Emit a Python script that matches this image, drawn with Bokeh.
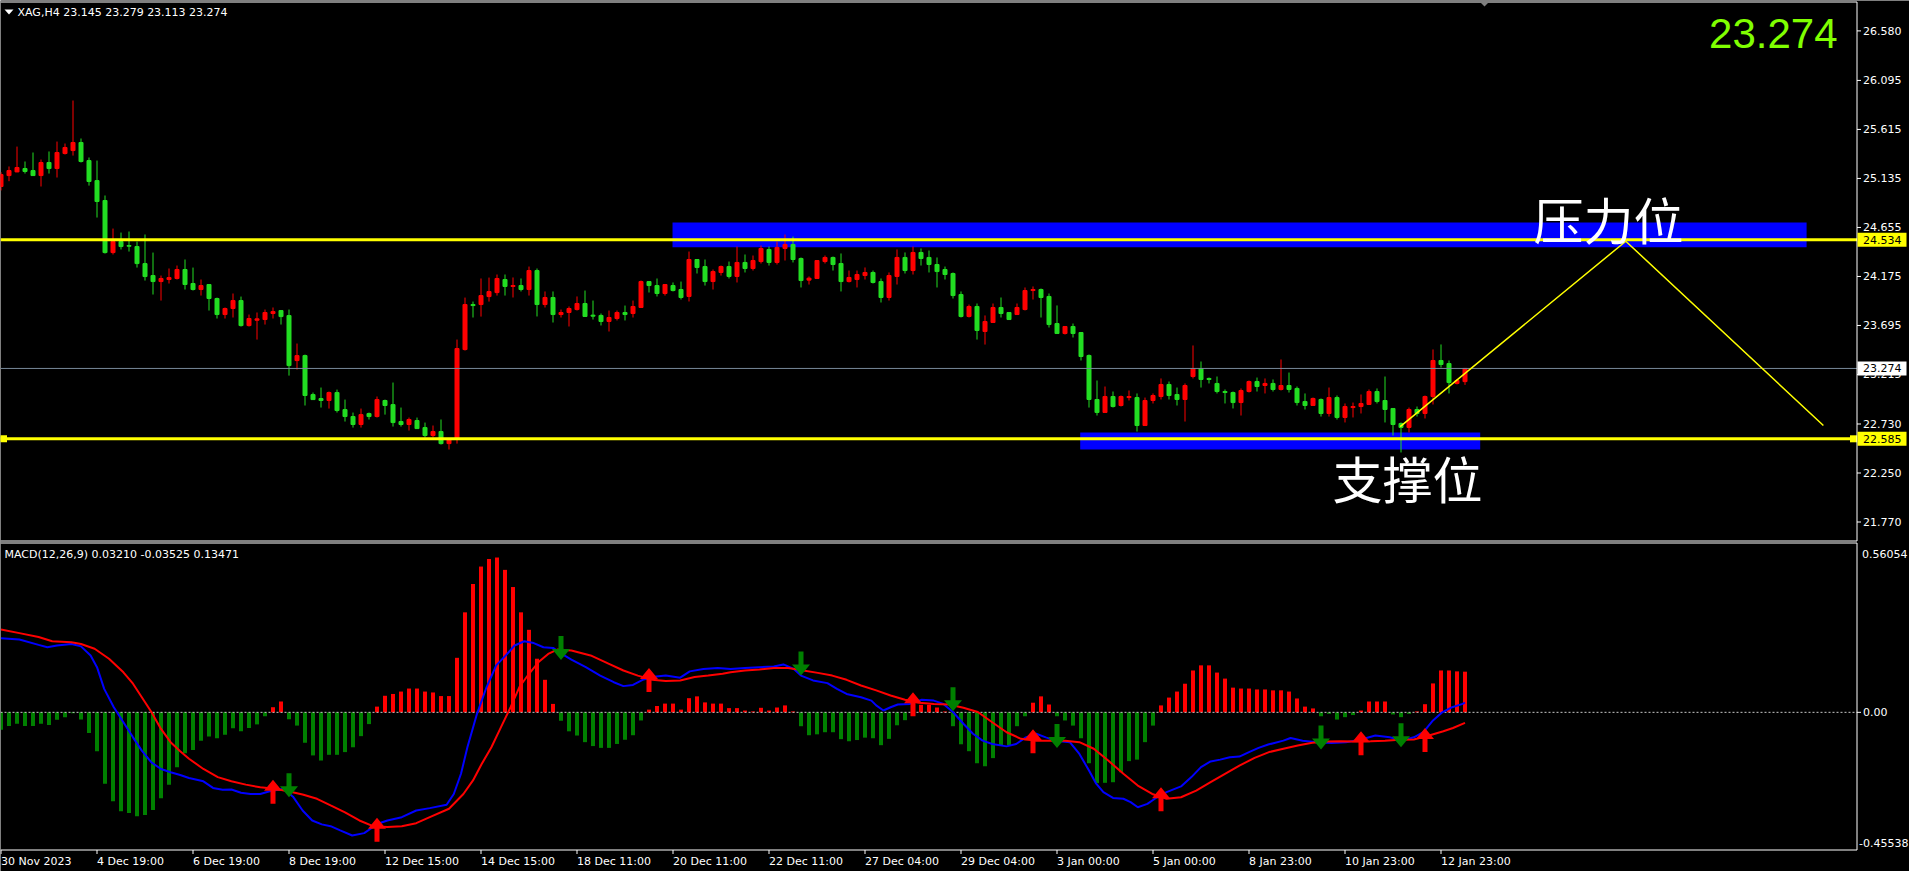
from bokeh.plotting import figure
from bokeh.models import Range1d, Label, BoxAnnotation
from bokeh.embed import file_html
from bokeh.resources import INLINE

# ---------------- data (XAG, H4) ----------------
opens = [25.056, 25.163, 25.199, 25.232, 25.212, 25.163, 25.291, 25.232, 25.379, 25.408,
         25.487, 25.310, 25.114, 24.919, 24.409, 24.517, 24.478, 24.468, 24.301, 24.184,
         24.125, 24.145, 24.155, 24.243, 24.106, 24.047, 24.096, 23.959, 23.802, 23.861,
         23.939, 23.694, 23.746, 23.753, 23.812, 23.841, 23.792, 23.351, 23.400, 23.018,
         22.979, 22.960, 23.038, 22.871, 22.803, 22.725, 22.832, 22.803, 22.960, 22.920,
         22.754, 22.725, 22.764, 22.695, 22.617, 22.656, 22.538, 22.578, 23.459, 23.900,
         23.900, 23.978, 24.017, 24.145, 24.077, 24.086, 24.047, 24.233, 23.900, 23.969,
         23.802, 23.822, 23.851, 23.910, 23.796, 23.793, 23.734, 23.763, 23.822, 23.812,
         23.871, 24.125, 24.086, 24.008, 24.086, 24.047, 23.979, 24.341, 24.272, 24.125,
         24.214, 24.272, 24.175, 24.312, 24.253, 24.321, 24.439, 24.312, 24.449, 24.488,
         24.351, 24.139, 24.155, 24.321, 24.361, 24.302, 24.125, 24.145, 24.184, 24.214,
         24.125, 23.969, 24.175, 24.361, 24.233, 24.410, 24.361, 24.292, 24.243, 24.204,
         23.998, 23.783, 23.881, 23.636, 23.724, 23.871, 23.822, 23.802, 23.851, 24.037,
         24.047, 23.979, 23.714, 23.616, 23.685, 23.626, 23.401, 22.970, 22.843, 22.999,
         22.911, 22.989, 22.989, 22.715, 22.960, 22.999, 23.117, 23.019, 22.970, 23.195,
         23.273, 23.176, 23.127, 23.048, 23.038, 22.940, 23.048, 23.146, 23.107, 23.127,
         23.068, 23.107, 23.078, 22.950, 22.911, 22.970, 22.833, 22.989, 22.794, 22.891,
         22.901, 22.921, 23.048, 22.960, 22.882, 22.735, 22.696, 22.872, 22.833, 22.999,
         23.352, 23.322, 23.127, 23.145]
highs = [25.196, 25.252, 25.447, 25.301, 25.389, 25.320, 25.399, 25.496, 25.477, 25.898,
         25.526, 25.340, 25.310, 24.968, 24.644, 24.605, 24.615, 24.517, 24.586, 24.409,
         24.184, 24.253, 24.282, 24.341, 24.262, 24.145, 24.096, 23.968, 23.871, 24.008,
         23.978, 23.802, 23.822, 23.851, 23.871, 23.841, 23.851, 23.518, 23.410, 23.038,
         23.087, 23.048, 23.067, 22.969, 22.842, 22.881, 22.842, 22.999, 22.969, 23.136,
         22.891, 22.793, 22.793, 22.744, 22.715, 22.774, 22.578, 23.557, 23.968, 23.929,
         24.155, 24.164, 24.194, 24.194, 24.165, 24.155, 24.272, 24.253, 24.028, 24.028,
         23.851, 23.881, 23.979, 24.037, 23.939, 23.812, 23.841, 23.841, 23.890, 23.939,
         24.135, 24.125, 24.155, 24.096, 24.116, 24.125, 24.419, 24.341, 24.341, 24.243,
         24.282, 24.321, 24.468, 24.390, 24.380, 24.478, 24.468, 24.517, 24.586, 24.566,
         24.361, 24.175, 24.331, 24.380, 24.370, 24.400, 24.233, 24.233, 24.263, 24.233,
         24.155, 24.214, 24.439, 24.410, 24.468, 24.449, 24.429, 24.361, 24.272, 24.214,
         24.028, 23.900, 23.910, 23.793, 23.910, 23.969, 23.822, 23.910, 24.067, 24.077,
         24.057, 24.008, 23.891, 23.685, 23.714, 23.626, 23.411, 23.156, 23.097, 23.048,
         23.009, 23.058, 23.029, 22.989, 23.029, 23.176, 23.146, 23.087, 23.127, 23.499,
         23.342, 23.185, 23.195, 23.068, 23.048, 23.078, 23.156, 23.185, 23.176, 23.166,
         23.362, 23.234, 23.097, 23.029, 22.989, 22.980, 23.087, 23.009, 22.931, 22.940,
         23.019, 23.068, 23.078, 23.195, 22.882, 22.745, 22.891, 22.901, 23.009, 23.460,
         23.509, 23.352, 23.169, 23.279]
lows = [25.017, 25.108, 25.196, 25.183, 25.163, 25.056, 25.183, 25.144, 25.369, 25.359,
        25.291, 25.065, 24.752, 24.399, 24.390, 24.439, 24.419, 24.262, 24.135, 23.998,
        23.939, 24.106, 24.145, 24.047, 24.037, 23.988, 23.841, 23.763, 23.763, 23.773,
        23.684, 23.684, 23.557, 23.704, 23.763, 23.704, 23.204, 23.263, 22.911, 22.969,
        22.891, 22.881, 22.842, 22.754, 22.695, 22.695, 22.774, 22.793, 22.822, 22.705,
        22.705, 22.666, 22.685, 22.597, 22.597, 22.529, 22.480, 22.538, 23.449, 23.773,
        23.782, 23.929, 23.988, 23.988, 23.969, 24.028, 23.988, 23.783, 23.871, 23.724,
        23.773, 23.685, 23.841, 23.783, 23.753, 23.695, 23.636, 23.744, 23.744, 23.773,
        23.871, 24.018, 23.979, 23.988, 24.028, 23.949, 23.930, 24.204, 24.086, 24.047,
        24.184, 24.155, 24.116, 24.214, 24.233, 24.302, 24.282, 24.292, 24.331, 24.312,
        24.067, 24.096, 24.155, 24.302, 24.233, 24.028, 24.116, 24.067, 24.145, 24.106,
        23.920, 23.939, 24.096, 24.204, 24.194, 24.282, 24.214, 24.067, 24.145, 23.959,
        23.773, 23.773, 23.557, 23.508, 23.724, 23.773, 23.753, 23.802, 23.842, 23.949,
        23.773, 23.675, 23.616, 23.606, 23.577, 23.352, 22.891, 22.813, 22.843, 22.891,
        22.901, 22.960, 22.656, 22.715, 22.931, 22.970, 22.970, 22.911, 22.754, 23.176,
        23.087, 23.127, 23.029, 22.931, 22.882, 22.813, 23.038, 23.048, 23.029, 23.048,
        23.058, 23.038, 22.911, 22.872, 22.911, 22.803, 22.803, 22.774, 22.745, 22.794,
        22.833, 22.921, 22.931, 22.745, 22.617, 22.451, 22.647, 22.803, 22.784, 22.921,
        23.283, 23.029, 23.117, 23.113]
closes = [25.173, 25.212, 25.242, 25.203, 25.163, 25.291, 25.232, 25.389, 25.438, 25.487,
          25.301, 25.105, 24.909, 24.409, 24.517, 24.468, 24.471, 24.301, 24.174, 24.125,
          24.155, 24.164, 24.243, 24.096, 24.047, 24.086, 23.959, 23.802, 23.861, 23.939,
          23.694, 23.763, 23.760, 23.822, 23.831, 23.782, 23.302, 23.400, 23.009, 22.969,
          22.960, 23.038, 22.862, 22.803, 22.725, 22.822, 22.803, 22.969, 22.911, 22.744,
          22.725, 22.774, 22.685, 22.617, 22.656, 22.538, 22.578, 23.469, 23.900, 23.890,
          23.988, 24.027, 24.155, 24.077, 24.086, 24.047, 24.233, 23.900, 23.969, 23.802,
          23.822, 23.861, 23.910, 23.783, 23.786, 23.734, 23.773, 23.822, 23.802, 23.881,
          24.125, 24.086, 24.008, 24.096, 24.037, 23.969, 24.341, 24.263, 24.125, 24.223,
          24.272, 24.175, 24.312, 24.253, 24.331, 24.449, 24.312, 24.459, 24.488, 24.341,
          24.135, 24.158, 24.331, 24.361, 24.292, 24.125, 24.165, 24.194, 24.214, 24.116,
          23.969, 24.184, 24.361, 24.233, 24.410, 24.351, 24.292, 24.223, 24.194, 23.988,
          23.783, 23.881, 23.646, 23.734, 23.871, 23.812, 23.753, 23.871, 24.037, 24.047,
          23.969, 23.704, 23.616, 23.685, 23.616, 23.391, 22.970, 22.843, 22.999, 22.901,
          22.999, 22.999, 22.715, 22.960, 23.009, 23.117, 23.009, 22.970, 23.107, 23.273,
          23.166, 23.166, 23.048, 23.038, 22.940, 23.058, 23.146, 23.097, 23.127, 23.068,
          23.107, 23.068, 22.940, 22.911, 22.980, 22.833, 22.989, 22.794, 22.901, 22.901,
          22.931, 23.048, 22.950, 22.872, 22.725, 22.696, 22.872, 22.833, 22.999, 23.352,
          23.313, 23.136, 23.156, 23.274]

macd_hist = [-0.058, -0.045, -0.038, -0.045, -0.045, -0.038, -0.042, -0.025, -0.016, -0.003,
             -0.024, -0.069, -0.129, -0.237, -0.295, -0.328, -0.334, -0.345, -0.341, -0.324,
             -0.285, -0.240, -0.182, -0.136, -0.125, -0.094, -0.080, -0.086, -0.074, -0.053,
             -0.063, -0.052, -0.040, -0.013, 0.017, 0.036, -0.023, -0.044, -0.101, -0.143,
             -0.160, -0.141, -0.141, -0.132, -0.116, -0.079, -0.039, 0.019, 0.055, 0.061,
             0.069, 0.079, 0.079, 0.069, 0.066, 0.054, 0.054, 0.181, 0.332, 0.426,
             0.484, 0.509, 0.514, 0.473, 0.416, 0.332, 0.274, 0.178, 0.108, 0.028,
             -0.028, -0.063, -0.077, -0.099, -0.112, -0.118, -0.118, -0.105, -0.091, -0.076,
             -0.027, 0.009, 0.021, 0.029, 0.029, 0.009, 0.047, 0.053, 0.033, 0.029,
             0.029, 0.014, 0.014, 0.006, 0.003, 0.015, 0.006, 0.016, 0.023, 0.003,
             -0.046, -0.076, -0.073, -0.066, -0.066, -0.089, -0.096, -0.092, -0.084, -0.086,
             -0.109, -0.088, -0.043, -0.026, 0.004, 0.025, 0.025, 0.016, 0.003, -0.046,
             -0.106, -0.129, -0.169, -0.179, -0.152, -0.110, -0.109, -0.046, -0.013, 0.032,
             0.053, 0.026, -0.013, -0.027, -0.044, -0.086, -0.169, -0.235, -0.234, -0.232,
             -0.199, -0.162, -0.157, -0.099, -0.044, 0.023, 0.049, 0.069, 0.095, 0.139,
             0.156, 0.156, 0.132, 0.112, 0.082, 0.079, 0.079, 0.076, 0.076, 0.073,
             0.073, 0.069, 0.046, 0.019, 0.013, -0.013, -0.005, -0.024, -0.016, -0.009,
             0.006, 0.036, 0.036, 0.036, -0.007, -0.016, -0.005, 0.003, 0.027, 0.096,
             0.139, 0.139, 0.136, 0.135]

dif_x = [0, 2.3, 4.7, 5.8, 7.0, 8.8, 10.0, 11.2, 12.0, 12.9, 14.1, 15.3, 16.5, 17.6, 18.8, 20.0,
         21.2, 22.4, 23.5, 25.3, 26.5, 27.7, 28.8, 30.0, 31.2, 32.4, 33.6, 35.3, 36.5, 37.7,
         38.9, 40.1, 41.2, 42.4, 43.9, 45.4, 47.1, 48.3, 50.1, 51.9, 53.6, 55.7, 56.6, 57.5,
         58.3, 59.5, 60.7, 61.9, 63.1, 64.2, 65.4, 66.6, 67.8, 69.0, 70.1, 71.3, 73.1, 74.9,
         76.6, 77.8, 79.0, 80.2, 81.9, 83.1, 84.9, 86.1, 87.8, 89.6, 91.2, 93.0, 94.8, 96.6,
         97.8, 99.1, 100.0, 101.5, 103.3, 104.5, 105.7, 107.5, 108.8, 109.4, 110.3, 111.2,
         112.1, 113.6, 115.1, 116.6, 117.8, 119.0, 120.3, 121.5, 122.7, 123.9, 125.7, 126.9,
         128.1, 129.4, 130.6, 131.8, 133.6, 134.8, 136.0, 136.9, 137.8, 139.0, 140.3, 141.2,
         142.1, 143.3, 144.5, 145.7, 147.5, 148.8, 150.0, 151.2, 152.4, 153.6, 154.8, 156.0,
         157.2, 158.4, 160.3, 161.2, 162.7, 164.5, 166.3, 168.1, 169.9, 171.8, 173.6, 175.1,
         176.6, 177.8, 179.0, 180.2, 181.4, 182.7, 183.0]
dif_y = [0.246, 0.242, 0.224, 0.216, 0.222, 0.227, 0.219, 0.189, 0.150, 0.078, 0.017, -0.033,
         -0.083, -0.127, -0.166, -0.188, -0.199, -0.208, -0.218, -0.229, -0.251, -0.257,
         -0.256, -0.267, -0.271, -0.271, -0.262, -0.254, -0.280, -0.326, -0.359, -0.372,
         -0.378, -0.392, -0.409, -0.401, -0.370, -0.359, -0.348, -0.326, -0.318, -0.307,
         -0.271, -0.204, -0.116, -0.005, 0.084, 0.156, 0.189, 0.222, 0.236, 0.230, 0.216,
         0.214, 0.194, 0.175, 0.150, 0.122, 0.100, 0.087, 0.091, 0.108, 0.119, 0.122, 0.115,
         0.136, 0.144, 0.147, 0.144, 0.147, 0.150, 0.152, 0.159, 0.144, 0.122, 0.106, 0.097,
         0.078, 0.061, 0.050, 0.039, 0.023, 0.006, 0.017, 0.026, 0.028, 0.042, 0.039, 0.028,
         0.001, -0.038, -0.071, -0.094, -0.105, -0.113, -0.105, -0.083, -0.071, -0.083,
         -0.094, -0.099, -0.138, -0.193, -0.237, -0.265, -0.284, -0.287, -0.298, -0.315,
         -0.304, -0.282, -0.265, -0.246, -0.215, -0.182, -0.163, -0.157, -0.149, -0.147,
         -0.132, -0.118, -0.107, -0.094, -0.085, -0.094, -0.099, -0.102, -0.099, -0.091,
         -0.077, -0.083, -0.094, -0.083, -0.066, -0.027, 0.001, 0.017, 0.028, 0.032]
dea_x = [0, 2.3, 4.7, 6.4, 8.8, 10.0, 11.7, 13.5, 15.3, 16.5, 17.6, 18.8, 20.0, 21.2, 22.4,
         23.5, 25.3, 27.1, 28.8, 30.6, 32.4, 34.2, 35.9, 37.7, 39.5, 41.2, 43.0, 44.8, 46.5,
         48.3, 50.1, 51.9, 53.6, 56.0, 57.8, 59.0, 60.1, 61.3, 62.5, 63.7, 64.8, 66.0, 67.2,
         68.4, 69.6, 71.3, 73.7, 76.0, 77.8, 79.6, 81.4, 83.1, 84.9, 86.7, 88.4, 90.2, 91.2,
         93.0, 94.8, 96.6, 98.4, 100.3, 102.1, 103.9, 105.7, 107.5, 109.4, 111.2, 113.0,
         114.8, 116.6, 118.5, 120.3, 122.1, 123.9, 125.7, 127.5, 129.4, 131.2, 133.0, 134.8,
         136.6, 138.4, 140.3, 142.1, 143.9, 145.7, 147.5, 149.4, 151.2, 153.0, 154.8, 156.7,
         158.5, 160.3, 162.1, 163.9, 165.7, 167.5, 169.4, 171.2, 173.0, 174.8, 176.6, 178.5,
         180.3, 181.5, 183.0]
dea_y = [0.275, 0.263, 0.250, 0.236, 0.233, 0.227, 0.211, 0.178, 0.133, 0.095, 0.050, 0.001,
         -0.055, -0.099, -0.129, -0.154, -0.188, -0.215, -0.229, -0.240, -0.249, -0.254,
         -0.262, -0.273, -0.287, -0.309, -0.332, -0.359, -0.378, -0.381, -0.378, -0.368,
         -0.348, -0.320, -0.271, -0.226, -0.171, -0.116, -0.049, 0.017, 0.084, 0.128, 0.167,
         0.194, 0.209, 0.205, 0.189, 0.161, 0.139, 0.122, 0.108, 0.104, 0.106, 0.117, 0.122,
         0.128, 0.133, 0.139, 0.142, 0.147, 0.147, 0.139, 0.131, 0.122, 0.108, 0.089, 0.073,
         0.056, 0.042, 0.032, 0.028, 0.026, 0.015, 0.001, -0.033, -0.066, -0.088, -0.094,
         -0.094, -0.094, -0.099, -0.121, -0.160, -0.204, -0.243, -0.271, -0.287, -0.282,
         -0.260, -0.232, -0.204, -0.177, -0.151, -0.132, -0.121, -0.110, -0.101, -0.097,
         -0.096, -0.097, -0.096, -0.094, -0.091, -0.090, -0.077, -0.063, -0.052, -0.035]

up_idx = [34, 47, 81, 114, 129, 145, 170, 178]
up_val = [-0.224, -0.350, 0.147, 0.067, -0.056, -0.249, -0.063, -0.052]
down_idx = [36, 70, 100, 119, 132, 165, 175]
down_val = [-0.282, 0.174, 0.122, 0.004, -0.118, -0.123, -0.116]

price_ticks = [26.580, 26.095, 25.615, 25.135, 24.655, 24.175, 23.695, 23.215, 22.730, 22.250, 21.770]
macd_top_label, macd_bottom_label = 0.56054, -0.45538
time_idx = [0, 12, 24, 36, 48, 60, 72, 84, 96, 108, 120, 132, 144, 156, 168, 180]
time_labels = ["30 Nov 2023", "4 Dec 19:00", "6 Dec 19:00", "8 Dec 19:00", "12 Dec 15:00",
               "14 Dec 15:00", "18 Dec 11:00", "20 Dec 11:00", "22 Dec 11:00", "27 Dec 04:00",
               "29 Dec 04:00", "3 Jan 00:00", "5 Jan 00:00", "8 Jan 23:00", "10 Jan 23:00",
               "12 Jan 23:00"]

resistance = 24.534
support = 22.585
bid = 23.274
zone_left = [83.94, 134.9]
zone_right = [225.7, 184.9]
zone_top = [24.703, 22.647]
zone_bottom = [24.462, 22.480]
proj_x = [174.9, 203.1, 227.8]
proj_y = [22.705, 24.52, 22.715]

# ---------------- pixel geometry of the MT4 window ----------------
W, H = 1909, 871
PX_PER_BAR = 8.0
PRICE_PER_PX = 0.009794
RES_PX = 239.3           # pixel row of the resistance level
MACD_PER_PX = (macd_top_label - macd_bottom_label) / 306.0
MACD_TOP_PX = 543.0


def ux(px):
    return (px - 0.5) / PX_PER_BAR


def py(px):
    return resistance + (RES_PX - px) * PRICE_PER_PX


def my(px):
    return macd_top_label - (px - MACD_TOP_PX) * MACD_PER_PX


FONT = "DejaVu Sans"
UP, DN = "#FF0000", "#22DD22"
XL, XB = ux(0), ux(1856.5)

p = figure(width=W, height=H, x_range=Range1d(ux(0), ux(W)), y_range=Range1d(py(H), py(0)),
           x_axis_location=None, y_axis_location=None, output_backend="svg",
           toolbar_location=None, background_fill_color="black", border_fill_color="black",
           outline_line_color=None, min_border=0)
p.extra_y_ranges = {"macd": Range1d(my(H), my(0))}
p.grid.visible = False

# ---------------- price panel ----------------
idx = list(range(len(closes)))
colors = [UP if c >= o else DN for o, c in zip(opens, closes)]
btop = [max(o, c) for o, c in zip(opens, closes)]
bbot = [min(o, c) for o, c in zip(opens, closes)]

p.quad(left=zone_left, right=zone_right, top=zone_top, bottom=zone_bottom,
       fill_color="#0000FF", line_color=None)
p.segment(x0=idx, y0=lows, x1=idx, y1=highs, line_color=colors, line_width=1)
p.vbar(x=idx, top=btop, bottom=bbot, width=0.5, fill_color=colors, line_color=colors, line_width=1)

p.segment(x0=[XL], y0=[bid], x1=[XB], y1=[bid], line_color="#778899", line_width=1)
p.segment(x0=[XL, XL], y0=[resistance, support], x1=[XB, XB], y1=[resistance, support],
          line_color="#FFFF00", line_width=3)
p.line(proj_x, proj_y, line_color="#FFFF00", line_width=1.5)
p.scatter(x=[ux(3), ux(1853)], y=[support, support], marker="square", size=7,
          fill_color="#FFFF00", line_color=None)

# frame borders and price ticks
p.segment(x0=[XL, XL, XB], y0=[py(1.5), py(540.5), py(1.5)], x1=[XB, XB, XB],
          y1=[py(1.5), py(540.5), py(540.5)], line_color="white", line_width=1)
p.segment(x0=[XB] * len(price_ticks), y0=price_ticks, x1=[ux(1860.5)] * len(price_ticks),
          y1=price_ticks, line_color="white", line_width=1)

# small triangles (MT4 menu marker and chart-shift marker)
p.patch([ux(4), ux(13), ux(8.5)], [py(9), py(9), py(14)], fill_color="white", line_color=None)
p.patch([ux(1478), ux(1490), ux(1484)], [py(0), py(0), py(6)], fill_color="#808080",
        line_color=None)


def lab(x, y, text, xo=0, yo=0, size="11px", color="white", align="left", font=FONT,
        rng="default"):
    p.add_layout(Label(x=x, y=y, x_offset=xo, y_offset=yo, text=text, text_color=color,
                       text_font=font, text_font_size=size, text_align=align,
                       text_baseline="middle", y_range_name=rng))


def price_box(level, text, bg):
    p.add_layout(BoxAnnotation(left=ux(1857), right=ux(1906), top=level + 7 * PRICE_PER_PX,
                               bottom=level - 7 * PRICE_PER_PX, fill_color=bg, fill_alpha=1.0,
                               line_color=None))
    lab(XB, level, text, xo=6, color="black")


lab(ux(17), py(12), "XAG,H4  23.145 23.279 23.113 23.274")
lab(ux(1837), py(33), "23.274", size="42px", color="#80FF00", align="right",
    font="Liberation Sans")
lab(200.94, 24.752, "压力位", size="50px", align="center", font="Noto Sans CJK SC")
lab(175.8, 22.211, "支撑位", size="50px", align="center", font="Noto Sans CJK SC")
for t in price_ticks:
    lab(XB, t, "%.3f" % t, xo=6)
price_box(resistance, "24.534", "#FFFF00")
price_box(support, "22.585", "#FFFF00")
price_box(bid, "23.274", "white")

# ---------------- MACD panel ----------------
hcol = [UP if v >= 0 else "#008000" for v in macd_hist]
p.vbar(x=idx, top=macd_hist, bottom=0, width=0.5, fill_color=hcol, line_color=None,
       y_range_name="macd")
p.segment(x0=[XL], y0=[0], x1=[XB], y1=[0], line_color="#C8C8C8", line_width=1,
          line_dash="2 2", y_range_name="macd")
p.line(dif_x, dif_y, line_color="#0000FF", line_width=2, y_range_name="macd")
p.line(dea_x, dea_y, line_color="#FF0000", line_width=2, y_range_name="macd")

shape = [(0, 0), (9, 11), (2.5, 11), (2.5, 24), (-2.5, 24), (-2.5, 11), (-9, 11)]
uxs = [[i + dx / PX_PER_BAR for dx, dy in shape] for i in up_idx]
uys = [[v - dy * MACD_PER_PX for dx, dy in shape] for v in up_val]
dxs = [[i + dx / PX_PER_BAR for dx, dy in shape] for i in down_idx]
dys = [[v + dy * MACD_PER_PX for dx, dy in shape] for v in down_val]
p.patches(uxs, uys, fill_color="#FF0000", line_color=None, y_range_name="macd")
p.patches(dxs, dys, fill_color="#008000", line_color=None, y_range_name="macd")

p.segment(x0=[XL, XL, XB], y0=[my(542.5), my(849.5), my(542.5)], x1=[XB, XB, XB],
          y1=[my(542.5), my(849.5), my(849.5)], line_color="white", line_width=1,
          y_range_name="macd")
p.segment(x0=[XB], y0=[0], x1=[ux(1860.5)], y1=[0], line_color="white", line_width=1,
          y_range_name="macd")
p.segment(x0=time_idx, y0=[my(849.5)] * len(time_idx), x1=time_idx,
          y1=[my(853.5)] * len(time_idx), line_color="white", line_width=1, y_range_name="macd")

lab(ux(4), my(554), "MACD(12,26,9) 0.03210 -0.03525 0.13471", rng="macd")
lab(XB, my(553), "%.5f" % macd_top_label, xo=5, rng="macd")
lab(XB, 0, "0.00", xo=6, rng="macd")
lab(XB, my(842), "%.5f" % macd_bottom_label, xo=2, rng="macd")
for k, t in zip(time_idx, time_labels):
    lab(k, my(860.5), t, rng="macd")

open("out.html", "w").write(file_html(p, INLINE))
